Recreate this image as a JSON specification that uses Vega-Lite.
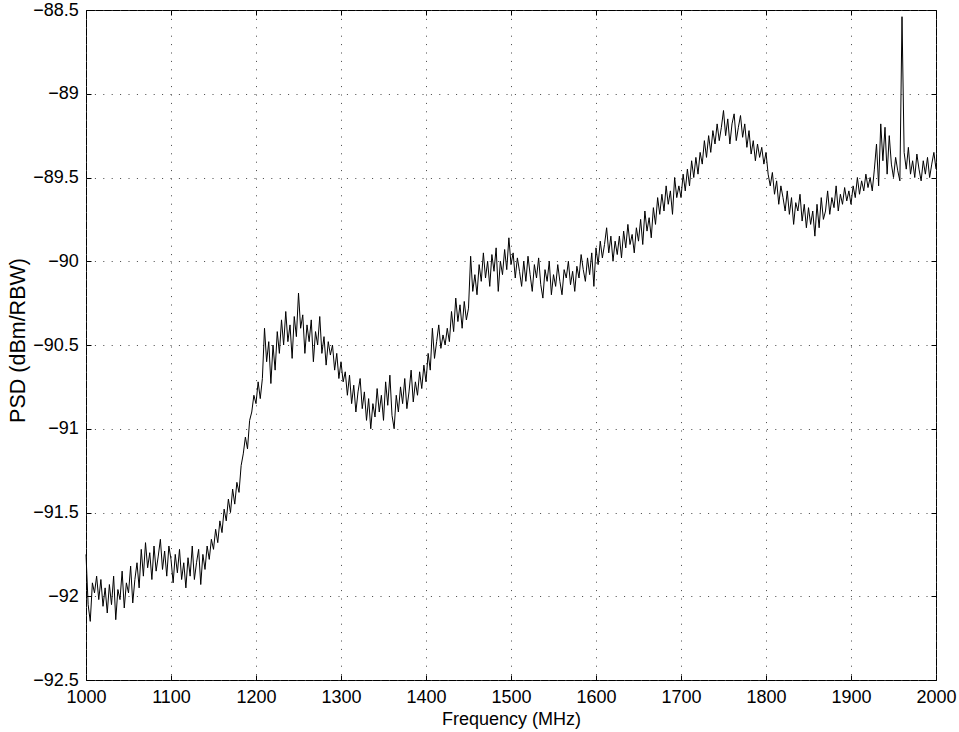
{
"$schema": "https://vega.github.io/schema/vega-lite/v6.json",
"width": 850,
"height": 670,
"autosize": {"type": "none"},
"padding": {"left": 86, "top": 10, "right": 23, "bottom": 52},
"background": "white",
"config": {
  "view": {"stroke": "#000", "strokeWidth": 1},
  "font": "Liberation Sans",
  "axis": {"labelFont": "Liberation Sans", "titleFont": "Liberation Sans", "labelFontSize": 18, "titleFontSize": 18, "titleFontWeight": "normal", "labelColor": "#000", "titleColor": "#000", "domain": false, "tickColor": "#000", "tickSize": -5, "gridColor": "#444", "gridDash": [1, 7.4], "gridWidth": 1, "gridOpacity": 1, "labelFlush": false, "labelOverlap": false}
},
"data": {"values": [
{"f":1000,"p":-91.75},{"f":1002.5,"p":-92.05},{"f":1005,"p":-92.15},{"f":1007.5,"p":-91.92},{"f":1010,"p":-91.98},{"f":1012.5,"p":-91.88},{"f":1015,"p":-92.02},{"f":1017.5,"p":-91.90},{"f":1020,"p":-92.06},{"f":1022.5,"p":-91.95},
{"f":1025,"p":-92.10},{"f":1027.5,"p":-91.93},{"f":1030,"p":-92.05},{"f":1032.5,"p":-91.88},{"f":1035,"p":-92.14},{"f":1037.5,"p":-91.96},{"f":1040,"p":-92.02},{"f":1042.5,"p":-91.85},{"f":1045,"p":-92.07},{"f":1047.5,"p":-91.92},
{"f":1050,"p":-91.98},{"f":1052.5,"p":-91.82},{"f":1055,"p":-92.04},{"f":1057.5,"p":-91.90},{"f":1060,"p":-91.80},{"f":1062.5,"p":-91.95},{"f":1065,"p":-91.72},{"f":1067.5,"p":-91.88},{"f":1070,"p":-91.68},{"f":1072.5,"p":-91.83},
{"f":1075,"p":-91.74},{"f":1077.5,"p":-91.90},{"f":1080,"p":-91.70},{"f":1082.5,"p":-91.85},{"f":1085,"p":-91.76},{"f":1087.5,"p":-91.66},{"f":1090,"p":-91.84},{"f":1092.5,"p":-91.73},{"f":1095,"p":-91.88},{"f":1097.5,"p":-91.70},
{"f":1100,"p":-91.78},{"f":1102.5,"p":-91.92},{"f":1105,"p":-91.75},{"f":1107.5,"p":-91.86},{"f":1110,"p":-91.72},{"f":1112.5,"p":-91.90},{"f":1115,"p":-91.80},{"f":1117.5,"p":-91.95},{"f":1120,"p":-91.77},{"f":1122.5,"p":-91.88},
{"f":1125,"p":-91.70},{"f":1127.5,"p":-91.90},{"f":1130,"p":-91.80},{"f":1132.5,"p":-91.72},{"f":1135,"p":-91.93},{"f":1137.5,"p":-91.75},{"f":1140,"p":-91.84},{"f":1142.5,"p":-91.70},{"f":1145,"p":-91.78},{"f":1147.5,"p":-91.66},
{"f":1150,"p":-91.72},{"f":1152.5,"p":-91.60},{"f":1155,"p":-91.68},{"f":1157.5,"p":-91.55},{"f":1160,"p":-91.62},{"f":1162.5,"p":-91.48},{"f":1165,"p":-91.55},{"f":1167.5,"p":-91.42},{"f":1170,"p":-91.50},{"f":1172.5,"p":-91.36},
{"f":1175,"p":-91.45},{"f":1177.5,"p":-91.32},{"f":1180,"p":-91.38},{"f":1182.5,"p":-91.22},{"f":1185,"p":-91.15},{"f":1187.5,"p":-91.05},{"f":1190,"p":-91.12},{"f":1192.5,"p":-90.95},{"f":1195,"p":-90.90},{"f":1197.5,"p":-90.80},
{"f":1200,"p":-90.85},{"f":1202.5,"p":-90.72},{"f":1205,"p":-90.82},{"f":1207.5,"p":-90.70},{"f":1210,"p":-90.40},{"f":1212.5,"p":-90.60},{"f":1215,"p":-90.48},{"f":1217.5,"p":-90.73},{"f":1220,"p":-90.50},{"f":1222.5,"p":-90.65},
{"f":1225,"p":-90.42},{"f":1227.5,"p":-90.55},{"f":1230,"p":-90.35},{"f":1232.5,"p":-90.50},{"f":1235,"p":-90.30},{"f":1237.5,"p":-90.48},{"f":1240,"p":-90.38},{"f":1242.5,"p":-90.58},{"f":1245,"p":-90.33},{"f":1247.5,"p":-90.45},
{"f":1250,"p":-90.19},{"f":1252.5,"p":-90.40},{"f":1255,"p":-90.32},{"f":1257.5,"p":-90.55},{"f":1260,"p":-90.38},{"f":1262.5,"p":-90.48},{"f":1265,"p":-90.35},{"f":1267.5,"p":-90.60},{"f":1270,"p":-90.42},{"f":1272.5,"p":-90.50},
{"f":1275,"p":-90.33},{"f":1277.5,"p":-90.55},{"f":1280,"p":-90.45},{"f":1282.5,"p":-90.62},{"f":1285,"p":-90.48},{"f":1287.5,"p":-90.56},{"f":1290,"p":-90.50},{"f":1292.5,"p":-90.65},{"f":1295,"p":-90.55},{"f":1297.5,"p":-90.70},
{"f":1300,"p":-90.60},{"f":1302.5,"p":-90.72},{"f":1305,"p":-90.66},{"f":1307.5,"p":-90.80},{"f":1310,"p":-90.68},{"f":1312.5,"p":-90.85},{"f":1315,"p":-90.74},{"f":1317.5,"p":-90.90},{"f":1320,"p":-90.78},{"f":1322.5,"p":-90.70},
{"f":1325,"p":-90.88},{"f":1327.5,"p":-90.78},{"f":1330,"p":-90.95},{"f":1332.5,"p":-90.82},{"f":1335,"p":-91.00},{"f":1337.5,"p":-90.85},{"f":1340,"p":-90.93},{"f":1342.5,"p":-90.76},{"f":1345,"p":-90.90},{"f":1347.5,"p":-90.80},
{"f":1350,"p":-90.95},{"f":1352.5,"p":-90.72},{"f":1355,"p":-90.86},{"f":1357.5,"p":-90.68},{"f":1360,"p":-90.92},{"f":1362.5,"p":-91.00},{"f":1365,"p":-90.80},{"f":1367.5,"p":-90.90},{"f":1370,"p":-90.75},{"f":1372.5,"p":-90.85},
{"f":1375,"p":-90.70},{"f":1377.5,"p":-90.88},{"f":1380,"p":-90.78},{"f":1382.5,"p":-90.65},{"f":1385,"p":-90.84},{"f":1387.5,"p":-90.72},{"f":1390,"p":-90.80},{"f":1392.5,"p":-90.66},{"f":1395,"p":-90.76},{"f":1397.5,"p":-90.62},
{"f":1400,"p":-90.72},{"f":1402.5,"p":-90.55},{"f":1405,"p":-90.65},{"f":1407.5,"p":-90.40},{"f":1410,"p":-90.58},{"f":1412.5,"p":-90.48},{"f":1415,"p":-90.38},{"f":1417.5,"p":-90.52},{"f":1420,"p":-90.44},{"f":1422.5,"p":-90.50},
{"f":1425,"p":-90.40},{"f":1427.5,"p":-90.48},{"f":1430,"p":-90.30},{"f":1432.5,"p":-90.42},{"f":1435,"p":-90.22},{"f":1437.5,"p":-90.36},{"f":1440,"p":-90.26},{"f":1442.5,"p":-90.40},{"f":1445,"p":-90.24},{"f":1447.5,"p":-90.35},
{"f":1450,"p":-90.28},{"f":1452.5,"p":-89.97},{"f":1455,"p":-90.18},{"f":1457.5,"p":-90.08},{"f":1460,"p":-90.20},{"f":1462.5,"p":-90.02},{"f":1465,"p":-90.12},{"f":1467.5,"p":-89.95},{"f":1470,"p":-90.10},{"f":1472.5,"p":-90.00},
{"f":1475,"p":-90.15},{"f":1477.5,"p":-89.96},{"f":1480,"p":-90.06},{"f":1482.5,"p":-89.92},{"f":1485,"p":-90.18},{"f":1487.5,"p":-90.00},{"f":1490,"p":-90.08},{"f":1492.5,"p":-89.93},{"f":1495,"p":-90.05},{"f":1497.5,"p":-89.86},
{"f":1500,"p":-90.02},{"f":1502.5,"p":-89.95},{"f":1505,"p":-90.10},{"f":1507.5,"p":-89.98},{"f":1510,"p":-90.06},{"f":1512.5,"p":-90.15},{"f":1515,"p":-90.00},{"f":1517.5,"p":-90.12},{"f":1520,"p":-89.97},{"f":1522.5,"p":-90.08},
{"f":1525,"p":-90.18},{"f":1527.5,"p":-90.02},{"f":1530,"p":-90.10},{"f":1532.5,"p":-89.98},{"f":1535,"p":-90.14},{"f":1537.5,"p":-90.22},{"f":1540,"p":-90.05},{"f":1542.5,"p":-90.12},{"f":1545,"p":-90.00},{"f":1547.5,"p":-90.20},
{"f":1550,"p":-90.08},{"f":1552.5,"p":-90.15},{"f":1555,"p":-90.02},{"f":1557.5,"p":-90.12},{"f":1560,"p":-90.20},{"f":1562.5,"p":-90.05},{"f":1565,"p":-90.10},{"f":1567.5,"p":-90.00},{"f":1570,"p":-90.14},{"f":1572.5,"p":-90.06},
{"f":1575,"p":-90.18},{"f":1577.5,"p":-90.03},{"f":1580,"p":-90.10},{"f":1582.5,"p":-89.96},{"f":1585,"p":-90.05},{"f":1587.5,"p":-90.12},{"f":1590,"p":-89.98},{"f":1592.5,"p":-90.08},{"f":1595,"p":-89.95},{"f":1597.5,"p":-90.15},
{"f":1600,"p":-89.92},{"f":1602.5,"p":-90.02},{"f":1605,"p":-89.88},{"f":1607.5,"p":-89.98},{"f":1610,"p":-89.90},{"f":1612.5,"p":-89.80},{"f":1615,"p":-89.95},{"f":1617.5,"p":-89.85},{"f":1620,"p":-90.00},{"f":1622.5,"p":-89.88},
{"f":1625,"p":-89.96},{"f":1627.5,"p":-89.85},{"f":1630,"p":-89.98},{"f":1632.5,"p":-89.82},{"f":1635,"p":-89.92},{"f":1637.5,"p":-89.78},{"f":1640,"p":-89.90},{"f":1642.5,"p":-89.84},{"f":1645,"p":-89.95},{"f":1647.5,"p":-89.80},
{"f":1650,"p":-89.88},{"f":1652.5,"p":-89.75},{"f":1655,"p":-89.90},{"f":1657.5,"p":-89.70},{"f":1660,"p":-89.82},{"f":1662.5,"p":-89.74},{"f":1665,"p":-89.86},{"f":1667.5,"p":-89.68},{"f":1670,"p":-89.78},{"f":1672.5,"p":-89.62},
{"f":1675,"p":-89.72},{"f":1677.5,"p":-89.60},{"f":1680,"p":-89.70},{"f":1682.5,"p":-89.55},{"f":1685,"p":-89.66},{"f":1687.5,"p":-89.58},{"f":1690,"p":-89.72},{"f":1692.5,"p":-89.50},{"f":1695,"p":-89.62},{"f":1697.5,"p":-89.55},
{"f":1700,"p":-89.62},{"f":1702.5,"p":-89.48},{"f":1705,"p":-89.58},{"f":1707.5,"p":-89.45},{"f":1710,"p":-89.55},{"f":1712.5,"p":-89.40},{"f":1715,"p":-89.50},{"f":1717.5,"p":-89.38},{"f":1720,"p":-89.48},{"f":1722.5,"p":-89.35},
{"f":1725,"p":-89.42},{"f":1727.5,"p":-89.28},{"f":1730,"p":-89.38},{"f":1732.5,"p":-89.25},{"f":1735,"p":-89.35},{"f":1737.5,"p":-89.22},{"f":1740,"p":-89.30},{"f":1742.5,"p":-89.18},{"f":1745,"p":-89.28},{"f":1747.5,"p":-89.20},
{"f":1750,"p":-89.10},{"f":1752.5,"p":-89.25},{"f":1755,"p":-89.15},{"f":1757.5,"p":-89.30},{"f":1760,"p":-89.18},{"f":1762.5,"p":-89.12},{"f":1765,"p":-89.28},{"f":1767.5,"p":-89.20},{"f":1770,"p":-89.13},{"f":1772.5,"p":-89.26},
{"f":1775,"p":-89.18},{"f":1777.5,"p":-89.32},{"f":1780,"p":-89.22},{"f":1782.5,"p":-89.36},{"f":1785,"p":-89.28},{"f":1787.5,"p":-89.40},{"f":1790,"p":-89.30},{"f":1792.5,"p":-89.38},{"f":1795,"p":-89.32},{"f":1797.5,"p":-89.42},
{"f":1800,"p":-89.35},{"f":1802.5,"p":-89.48},{"f":1805,"p":-89.55},{"f":1807.5,"p":-89.47},{"f":1810,"p":-89.60},{"f":1812.5,"p":-89.52},{"f":1815,"p":-89.66},{"f":1817.5,"p":-89.55},{"f":1820,"p":-89.62},{"f":1822.5,"p":-89.70},
{"f":1825,"p":-89.58},{"f":1827.5,"p":-89.72},{"f":1830,"p":-89.62},{"f":1832.5,"p":-89.78},{"f":1835,"p":-89.65},{"f":1837.5,"p":-89.70},{"f":1840,"p":-89.60},{"f":1842.5,"p":-89.76},{"f":1845,"p":-89.66},{"f":1847.5,"p":-89.80},
{"f":1850,"p":-89.68},{"f":1852.5,"p":-89.78},{"f":1855,"p":-89.70},{"f":1857.5,"p":-89.85},{"f":1860,"p":-89.66},{"f":1862.5,"p":-89.80},{"f":1865,"p":-89.62},{"f":1867.5,"p":-89.75},{"f":1870,"p":-89.70},{"f":1872.5,"p":-89.58},
{"f":1875,"p":-89.72},{"f":1877.5,"p":-89.62},{"f":1880,"p":-89.68},{"f":1882.5,"p":-89.55},{"f":1885,"p":-89.70},{"f":1887.5,"p":-89.60},{"f":1890,"p":-89.66},{"f":1892.5,"p":-89.56},{"f":1895,"p":-89.64},{"f":1897.5,"p":-89.58},
{"f":1900,"p":-89.66},{"f":1902.5,"p":-89.55},{"f":1905,"p":-89.62},{"f":1907.5,"p":-89.50},{"f":1910,"p":-89.60},{"f":1912.5,"p":-89.52},{"f":1915,"p":-89.58},{"f":1917.5,"p":-89.48},{"f":1920,"p":-89.56},{"f":1922.5,"p":-89.50},
{"f":1925,"p":-89.58},{"f":1927.5,"p":-89.45},{"f":1930,"p":-89.30},{"f":1932.5,"p":-89.55},{"f":1935,"p":-89.18},{"f":1937.5,"p":-89.40},{"f":1940,"p":-89.20},{"f":1942.5,"p":-89.48},{"f":1945,"p":-89.25},{"f":1947.5,"p":-89.42},
{"f":1950,"p":-89.50},{"f":1952.5,"p":-89.38},{"f":1955,"p":-89.46},{"f":1957.5,"p":-89.52},{"f":1960,"p":-88.54},{"f":1962.5,"p":-89.35},{"f":1965,"p":-89.45},{"f":1967.5,"p":-89.32},{"f":1970,"p":-89.48},{"f":1972.5,"p":-89.40},
{"f":1975,"p":-89.50},{"f":1977.5,"p":-89.36},{"f":1980,"p":-89.45},{"f":1982.5,"p":-89.52},{"f":1985,"p":-89.40},{"f":1987.5,"p":-89.48},{"f":1990,"p":-89.38},{"f":1992.5,"p":-89.50},{"f":1995,"p":-89.42},{"f":1997.5,"p":-89.35},{"f":2000,"p":-89.45}
]},
"layer": [
  {
    "mark": {"type": "line", "color": "#000", "strokeWidth": 1, "interpolate": "linear"},
    "encoding": {
      "x": {"field": "f", "type": "quantitative", "scale": {"domain": [1000, 2000], "nice": false, "zero": false},
            "axis": {"title": "Frequency (MHz)", "values": [1000,1100,1200,1300,1400,1500,1600,1700,1800,1900,2000], "format": "d", "grid": true, "labelPadding": 13.5, "titleY": 39, "titleBaseline": "middle"}},
      "y": {"field": "p", "type": "quantitative", "scale": {"domain": [-92.5, -88.5], "nice": false, "zero": false},
            "axis": {"title": "PSD (dBm/RBW)", "values": [-92.5,-92,-91.5,-91,-90.5,-90,-89.5,-89,-88.5], "format": ".1~f", "grid": true, "labelPadding": 12.7, "titleFontSize": 21.5, "titleX": -68, "titleY": 330, "titleAngle": -90, "titleBaseline": "middle", "titleAlign": "center"}}
    }
  },
  {
    "mark": {"type": "line", "strokeOpacity": 0},
    "encoding": {
      "x": {"field": "f", "type": "quantitative", "scale": {"domain": [1000, 2000], "nice": false, "zero": false}, "axis": {"orient": "top", "labels": false, "title": null, "grid": false, "values": [1000,1100,1200,1300,1400,1500,1600,1700,1800,1900,2000]}},
      "y": {"field": "p", "type": "quantitative", "scale": {"domain": [-92.5, -88.5], "nice": false, "zero": false}, "axis": {"orient": "right", "labels": false, "title": null, "grid": false, "values": [-92.5,-92,-91.5,-91,-90.5,-90,-89.5,-89,-88.5]}}
    }
  }
],
"resolve": {"axis": {"x": "independent", "y": "independent"}}
}
